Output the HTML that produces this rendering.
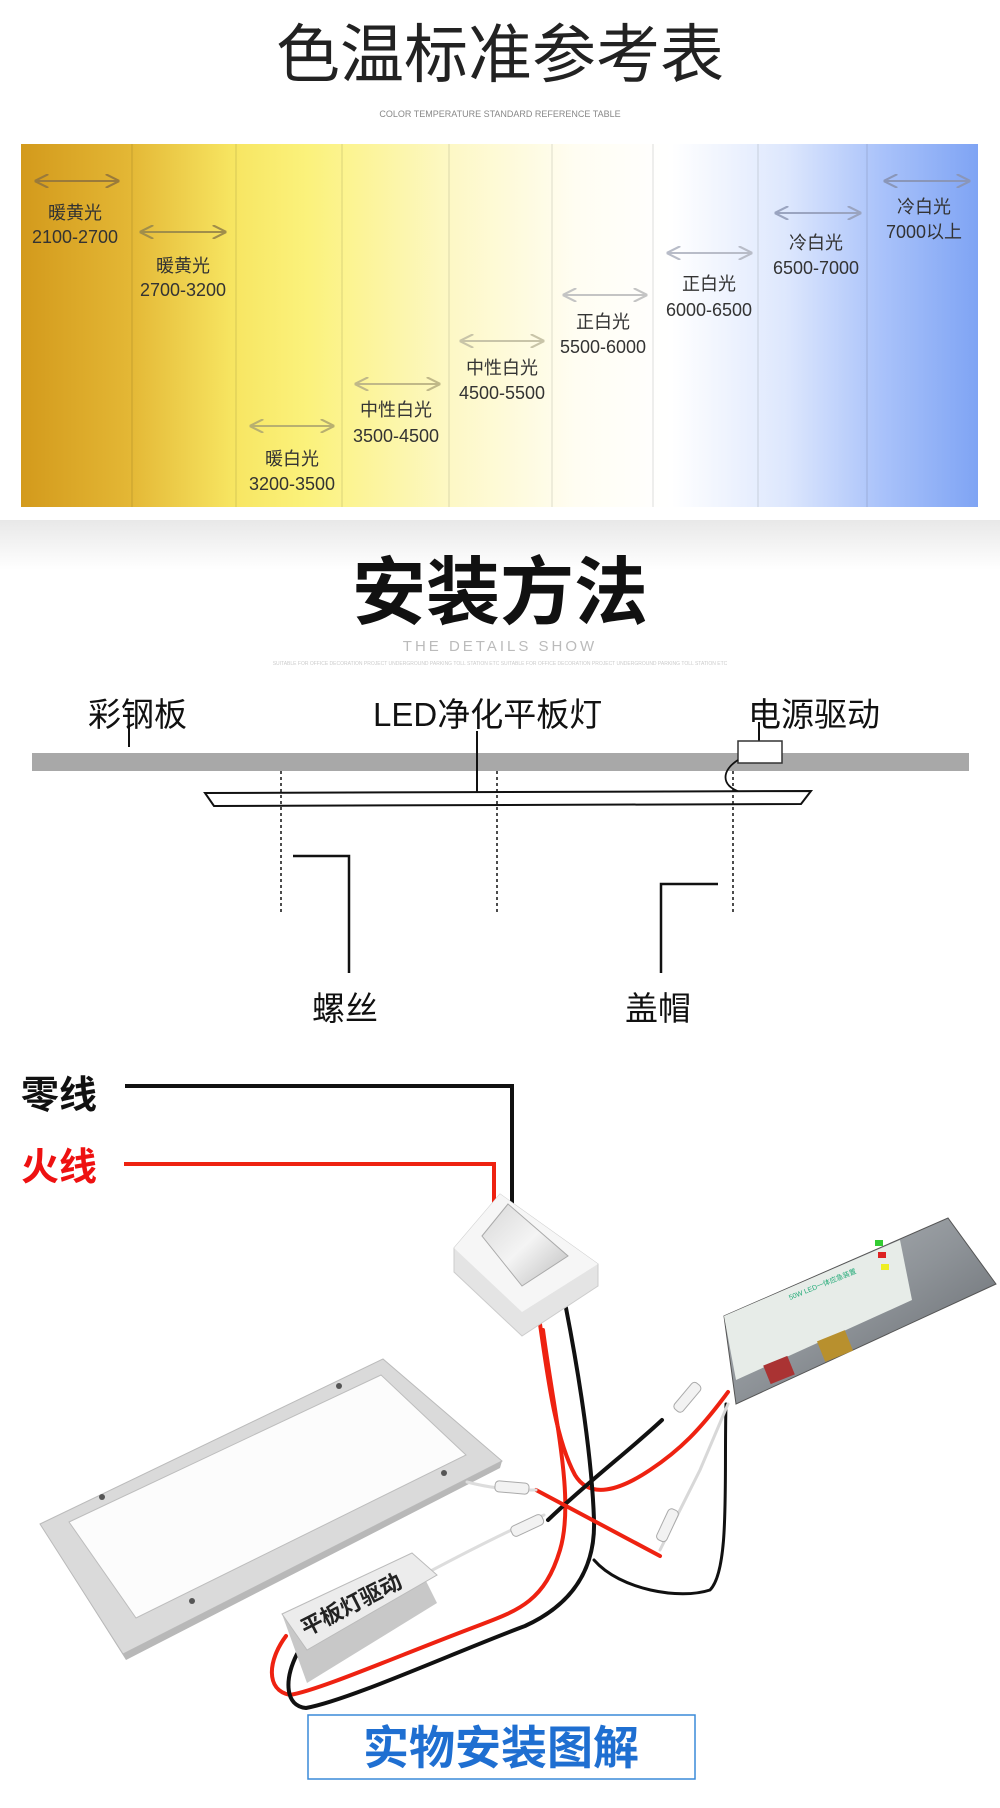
<!DOCTYPE html>
<html><head><meta charset="utf-8">
<style>
html,body{margin:0;padding:0;background:#fff;}
body{width:1000px;height:1803px;overflow:hidden;}
svg text{font-family:"Liberation Sans","Noto Sans CJK SC",sans-serif;}
</style></head>
<body>
<svg width="1000" height="1803" viewBox="0 0 1000 1803" xmlns="http://www.w3.org/2000/svg">
<defs>
<linearGradient id="band" x1="0" x2="1" y1="0" y2="0">
<stop offset="0" stop-color="#d39a1c"/>
<stop offset="0.11" stop-color="#e3b634"/>
<stop offset="0.22" stop-color="#f7e561"/>
<stop offset="0.30" stop-color="#fbf27c"/>
<stop offset="0.45" stop-color="#fdf8c6"/>
<stop offset="0.58" stop-color="#fffdf2"/>
<stop offset="0.68" stop-color="#ffffff"/>
<stop offset="0.80" stop-color="#dde7fd"/>
<stop offset="0.90" stop-color="#a9c2fa"/>
<stop offset="1" stop-color="#7fa4f4"/>
</linearGradient>
<linearGradient id="shade" x1="0" x2="0" y1="0" y2="1">
<stop offset="0" stop-color="#e8e8e8"/>
<stop offset="1" stop-color="#ffffff"/>
</linearGradient>
<linearGradient id="metal" x1="0" x2="1" y1="0" y2="1">
<stop offset="0" stop-color="#b8bcc0"/>
<stop offset="0.5" stop-color="#8e9398"/>
<stop offset="1" stop-color="#5d6166"/>
</linearGradient>
<linearGradient id="btn" x1="0" x2="1" y1="0" y2="1">
<stop offset="0" stop-color="#d8d8d8"/>
<stop offset="0.5" stop-color="#f4f4f4"/>
<stop offset="1" stop-color="#bdbdbd"/>
</linearGradient>
<marker id="ah" viewBox="0 0 10 10" refX="9" refY="5" markerWidth="7" markerHeight="7" orient="auto-start-reverse"><path d="M0,0 L10,5 L0,10" fill="none" stroke="context-stroke" stroke-width="1.5"/></marker>
</defs>

<!-- Section 1 -->
<text x="500" y="77" text-anchor="middle" font-size="64" fill="#222">色温标准参考表</text>
<text x="500" y="117" text-anchor="middle" font-size="9" fill="#888">COLOR TEMPERATURE STANDARD REFERENCE TABLE</text>
<rect x="21" y="144" width="957" height="363" fill="url(#band)"/>
<g stroke="#000" stroke-opacity="0.13" stroke-width="1">
<line x1="132" y1="144" x2="132" y2="507"/><line x1="236" y1="144" x2="236" y2="507"/>
<line x1="342" y1="144" x2="342" y2="507"/><line x1="449" y1="144" x2="449" y2="507"/>
<line x1="552" y1="144" x2="552" y2="507"/><line x1="653" y1="144" x2="653" y2="507"/>
<line x1="758" y1="144" x2="758" y2="507"/><line x1="867" y1="144" x2="867" y2="507"/>
</g>
<g stroke-width="2" fill="none" marker-start="url(#ah)" marker-end="url(#ah)">
<line x1="36" y1="181" x2="118" y2="181" stroke="#9a7a3a"/>
<line x1="141" y1="232" x2="225" y2="232" stroke="#a08e4a"/>
<line x1="251" y1="426" x2="333" y2="426" stroke="#b8b070"/>
<line x1="356" y1="384" x2="439" y2="384" stroke="#c0b888"/>
<line x1="461" y1="341" x2="543" y2="341" stroke="#c8c4a8"/>
<line x1="564" y1="295" x2="646" y2="295" stroke="#c4c4c4"/>
<line x1="668" y1="253" x2="751" y2="253" stroke="#b8bcc8"/>
<line x1="776" y1="213" x2="860" y2="213" stroke="#9aa4c0"/>
<line x1="885" y1="181" x2="969" y2="181" stroke="#8a96b8"/>
</g>
<g font-size="18" fill="#333" text-anchor="middle">
<text x="75" y="219">暖黄光</text><text x="75" y="243">2100-2700</text>
<text x="183" y="272">暖黄光</text><text x="183" y="296">2700-3200</text>
<text x="292" y="465">暖白光</text><text x="292" y="490">3200-3500</text>
<text x="396" y="416">中性白光</text><text x="396" y="442">3500-4500</text>
<text x="502" y="374">中性白光</text><text x="502" y="399">4500-5500</text>
<text x="603" y="328">正白光</text><text x="603" y="353">5500-6000</text>
<text x="709" y="290">正白光</text><text x="709" y="316">6000-6500</text>
<text x="816" y="249">冷白光</text><text x="816" y="274">6500-7000</text>
<text x="924" y="213">冷白光</text><text x="924" y="238">7000以上</text>
</g>

<!-- Section 2 -->
<rect x="0" y="520" width="1000" height="50" fill="url(#shade)"/>
<text x="500" y="618" text-anchor="middle" font-size="74" font-weight="bold" fill="#111">安装方法</text>
<text x="500" y="651" text-anchor="middle" font-size="15" fill="#bbb" letter-spacing="3">THE DETAILS SHOW</text>
<text x="500" y="665" text-anchor="middle" font-size="5" fill="#ccc">SUITABLE FOR OFFICE DECORATION PROJECT UNDERGROUND PARKING TOLL STATION ETC SUITABLE FOR OFFICE DECORATION PROJECT UNDERGROUND PARKING TOLL STATION ETC</text>

<g font-size="33" fill="#111">
<text x="88" y="726">彩钢板</text>
<text x="373" y="726">LED净化平板灯</text>
<text x="748" y="726">电源驱动</text>
<text x="312" y="1020">螺丝</text>
<text x="625" y="1020">盖帽</text>
</g>
<rect x="32" y="753" width="937" height="18" fill="#a8a8a8"/>
<line x1="129" y1="727" x2="129" y2="747" stroke="#111" stroke-width="2"/>
<line x1="477" y1="731" x2="477" y2="793" stroke="#111" stroke-width="2"/>
<line x1="759" y1="722" x2="759" y2="741" stroke="#111" stroke-width="2"/>
<rect x="738" y="741" width="44" height="22" fill="#fff" stroke="#333" stroke-width="1.5"/>
<path d="M738,760 C722,770 720,785 740,792 C765,800 785,790 786,794" fill="none" stroke="#111" stroke-width="1.8"/>
<path d="M205,793 L811,791 L801,804 L214,806 Z" fill="#fff" stroke="#111" stroke-width="2"/>
<g stroke="#111" stroke-width="1.5" stroke-dasharray="3,3">
<line x1="281" y1="771" x2="281" y2="912"/>
<line x1="497" y1="771" x2="497" y2="912"/>
<line x1="733" y1="771" x2="733" y2="914"/>
</g>
<polyline points="293,856 349,856 349,973" fill="none" stroke="#111" stroke-width="2.5"/>
<polyline points="718,884 661,884 661,973" fill="none" stroke="#111" stroke-width="2.5"/>

<!-- Section 3 -->
<text x="21" y="1108" font-size="38" font-weight="bold" fill="#111">零线</text>
<text x="21" y="1180" font-size="38" font-weight="bold" fill="#e11">火线</text>
<polyline points="125,1086 512,1086 512,1215" fill="none" stroke="#111" stroke-width="4"/>
<polyline points="124,1164 494,1164 494,1215" fill="none" stroke="#e21" stroke-width="4"/>

<!-- panel -->
<path d="M40,1524 L383,1359 L502,1461 L123,1654 Z" fill="#dadada" stroke="#bbb" stroke-width="1"/>
<path d="M40,1524 L123,1654 L502,1461 L500,1468 L126,1660 Z" fill="#b8b8b8"/>
<path d="M69,1522 L381,1375 L466,1455 L136,1618 Z" fill="#fcfcfc" stroke="#bdbdbd"/>
<circle cx="102" cy="1497" r="3" fill="#555"/><circle cx="339" cy="1386" r="3" fill="#555"/>
<circle cx="444" cy="1473" r="3" fill="#555"/><circle cx="192" cy="1601" r="3" fill="#555"/>

<!-- wires -->
<g fill="none" stroke-width="4" stroke-linecap="round">
<path d="M540,1324 C548,1380 556,1440 575,1475 C590,1500 620,1490 650,1470 C680,1450 700,1430 728,1392" stroke="#e21"/>
<path d="M543,1330 C555,1420 575,1500 560,1550 C545,1600 520,1610 480,1625 C400,1655 320,1690 290,1695 C265,1690 268,1660 286,1636" stroke="#e21"/>
<path d="M566,1308 C580,1380 592,1460 594,1520 C596,1580 560,1610 525,1626 C460,1650 350,1700 306,1708 C285,1706 284,1680 297,1654" stroke="#111"/>
<path d="M548,1520 C590,1480 630,1450 662,1420" stroke="#111"/>
<path d="M536,1490 L660,1556" stroke="#e21"/>
<path d="M594,1560 C620,1590 680,1600 710,1590 C730,1570 724,1480 726,1404" stroke="#111" stroke-width="3"/>
<path d="M467,1482 C490,1488 510,1490 536,1490" stroke="#ddd" stroke-width="3"/>
<path d="M425,1574 C470,1550 510,1530 544,1515" stroke="#ddd" stroke-width="3"/>
<path d="M660,1550 L700,1470 L728,1404" stroke="#d8d8d8" stroke-width="3"/>
</g>
<!-- connectors -->
<g fill="#f2f2f2" stroke="#aaa">
<rect x="495" y="1482" width="34" height="11" rx="4" transform="rotate(5 512 1487)"/>
<rect x="510" y="1520" width="34" height="11" rx="4" transform="rotate(-25 527 1525)"/>
<rect x="650" y="1520" width="34" height="11" rx="4" transform="rotate(-65 667 1525)"/>
<rect x="670" y="1392" width="34" height="11" rx="4" transform="rotate(-50 687 1397)"/>
</g>

<!-- switch -->
<path d="M454,1248 L500,1194 L598,1264 L598,1286 L522,1336 L454,1272 Z" fill="#e4e4e4" stroke="#ccc"/>
<path d="M454,1248 L500,1194 L598,1264 L522,1312 Z" fill="#f6f6f6"/>
<path d="M482,1236 L508,1204 L568,1256 L522,1286 Z" fill="url(#btn)" stroke="#aaa"/>

<!-- driver -->
<path d="M282,1614 L412,1553 L437,1603 L307,1683 Z" fill="#c8c8c8"/>
<path d="M282,1614 L412,1553 L437,1575 L307,1650 Z" fill="#ececec" stroke="#bbb"/>
<text x="352" y="1612" text-anchor="middle" font-size="22" font-weight="bold" fill="#222" transform="rotate(-27 352 1606)">平板灯驱动</text>

<!-- emergency box -->
<path d="M724,1316 L948,1218 L996,1284 L736,1404 Z" fill="url(#metal)" stroke="#555"/>
<path d="M724,1316 L900,1240 L912,1300 L736,1380 Z" fill="#e7ece8"/>
<rect x="875" y="1240" width="8" height="6" fill="#3c3"/>
<rect x="878" y="1252" width="8" height="6" fill="#d22"/>
<rect x="881" y="1264" width="8" height="6" fill="#ee2"/>
<rect x="766" y="1360" width="26" height="20" fill="#a33" transform="rotate(-22 779 1370)"/>
<rect x="820" y="1335" width="30" height="22" fill="#b8902e" transform="rotate(-22 835 1346)"/>
<text x="790" y="1300" font-size="7" fill="#2a7" transform="rotate(-22 790 1300)">50W LED一体应急装置</text>

<!-- bottom label -->
<rect x="308" y="1715" width="387" height="64" fill="#fff" stroke="#3a8ad8" stroke-width="1.5"/>
<text x="501" y="1764" text-anchor="middle" font-size="46" font-weight="bold" fill="#1f6fd1">实物安装图解</text>
</svg>
</body></html>
